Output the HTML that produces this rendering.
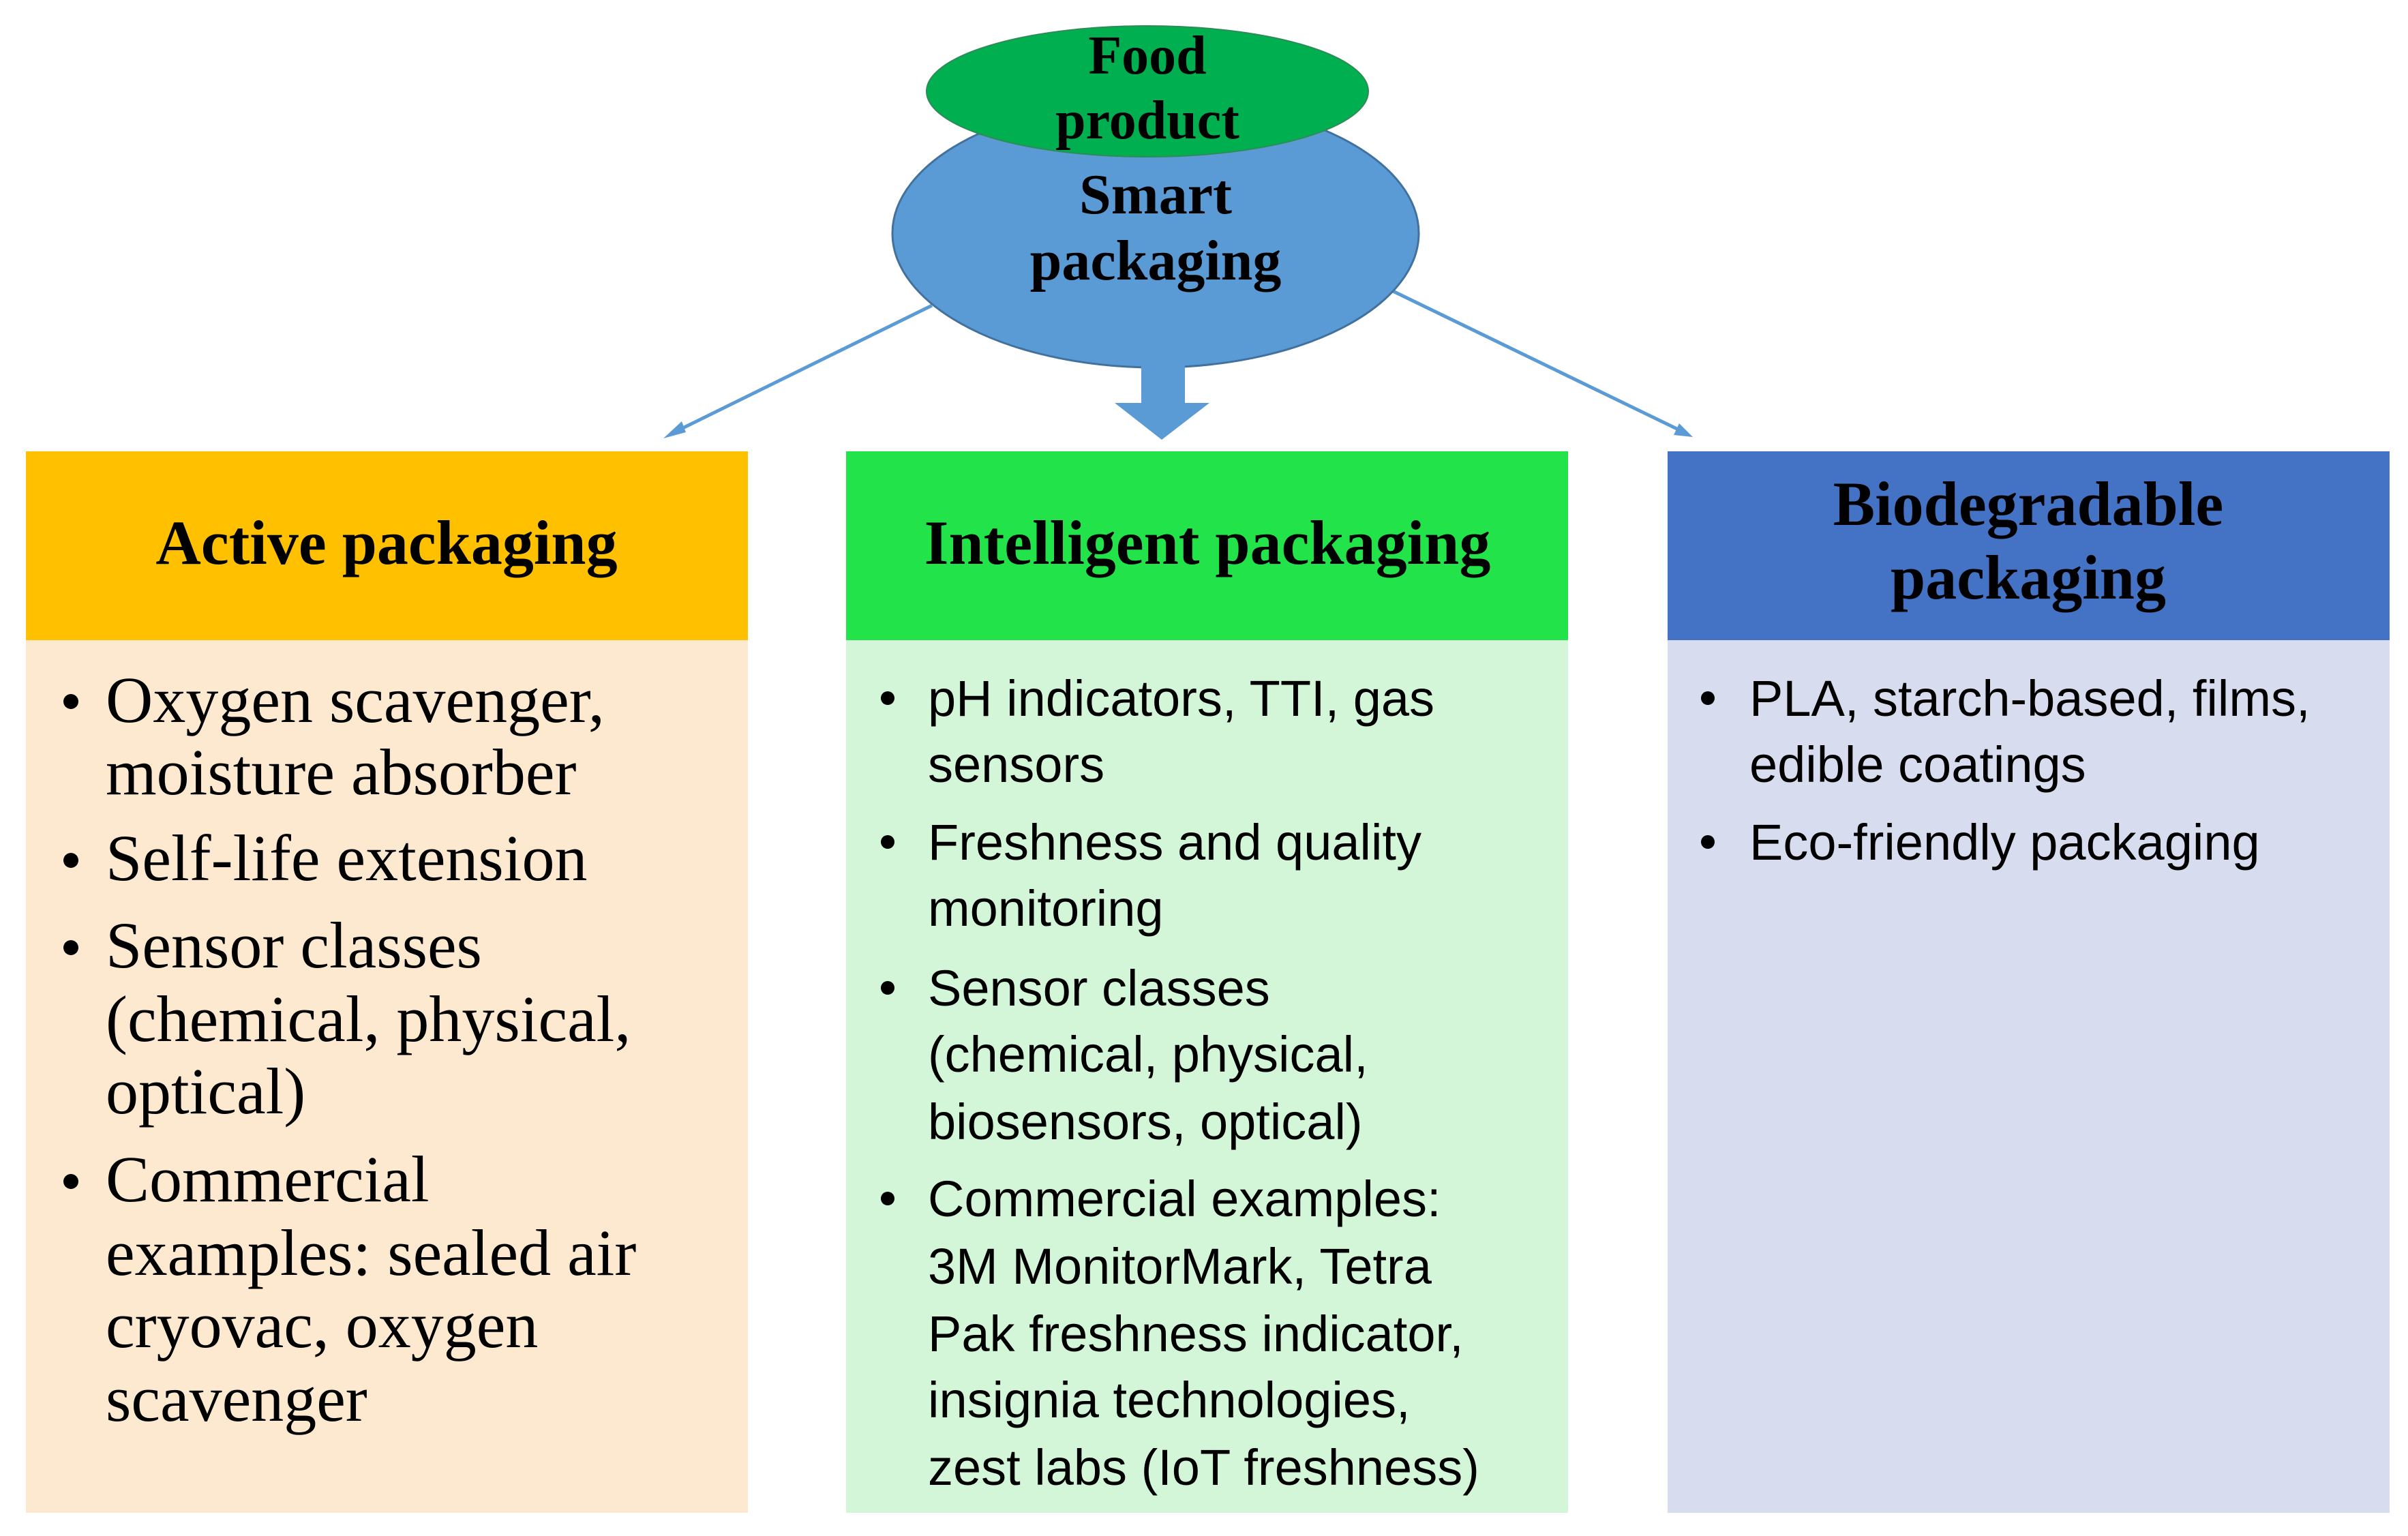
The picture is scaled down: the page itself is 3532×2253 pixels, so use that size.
<!DOCTYPE html>
<html><head><meta charset="utf-8"><style>html,body{margin:0;padding:0;background:#fff}svg{display:block}</style></head>
<body>
<svg width="3532" height="2253" viewBox="0 0 3532 2253" xmlns="http://www.w3.org/2000/svg">
<rect width="3532" height="2253" fill="#fff"/>
<!-- connectors -->
<line x1="1367" y1="448" x2="985" y2="636" stroke="#5b9bd5" stroke-width="5"/>
<polygon points="973,643 1000,618 1006,634" fill="#5b9bd5"/>
<line x1="2041" y1="426" x2="2470" y2="634" stroke="#5b9bd5" stroke-width="5"/>
<polygon points="2483,641 2455,638 2463,621" fill="#5b9bd5"/>
<!-- blue ellipse -->
<ellipse cx="1695" cy="342" rx="386" ry="197" fill="#5b9bd5" stroke="#41719c" stroke-width="3"/>
<!-- down arrow -->
<polygon points="1674,536 1738,536 1738,591 1774,591 1704,645 1635,591 1674,591" fill="#5b9bd5"/>
<!-- green ellipse -->
<ellipse cx="1683" cy="134" rx="324" ry="96" fill="#00b050" stroke="#2e8b57" stroke-width="2"/>
<g font-family="Liberation Serif, serif" font-weight="bold" fill="#000" text-anchor="middle">
<text x="1683" y="108" font-size="80">Food</text>
<text x="1683" y="203" font-size="80">product</text>
<text x="1695" y="313" font-size="84">Smart</text>
<text x="1695" y="410" font-size="84">packaging</text>
</g>
<!-- boxes -->
<rect x="38" y="662" width="1059" height="277" fill="#ffc000"/>
<rect x="38" y="939" width="1059" height="1280" fill="#fde9d0"/>
<rect x="1241" y="662" width="1059" height="277" fill="#23e34b"/>
<rect x="1241" y="939" width="1059" height="1280" fill="#d3f6d8"/>
<rect x="2446" y="662" width="1059" height="277" fill="#4472c4"/>
<rect x="2446" y="939" width="1059" height="1280" fill="#d7dcee"/>
<g font-family="Liberation Serif, serif" font-weight="bold" fill="#000" text-anchor="middle" font-size="92">
<text x="567" y="827">Active packaging</text>
<text x="1771" y="827">Intelligent packaging</text>
<text x="2975" y="770">Biodegradable</text>
<text x="2975" y="878">packaging</text>
</g>
<!-- active body -->
<g font-family="Liberation Serif, serif" fill="#000" font-size="96">
<circle cx="104" cy="1029" r="11"/>
<circle cx="104" cy="1262" r="11"/>
<circle cx="104" cy="1390" r="11"/>
<circle cx="104" cy="1733" r="11"/>
<text x="155" y="1059">Oxygen scavenger,</text>
<text x="155" y="1165">moisture absorber</text>
<text x="155" y="1291">Self-life extension</text>
<text x="155" y="1419">Sensor classes</text>
<text x="155" y="1527">(chemical, physical,</text>
<text x="155" y="1633">optical)</text>
<text x="155" y="1762">Commercial</text>
<text x="155" y="1870">examples: sealed air</text>
<text x="155" y="1976">cryovac, oxygen</text>
<text x="155" y="2084">scavenger</text>
</g>
<!-- intelligent body -->
<g font-family="Liberation Sans, sans-serif" fill="#000" font-size="74">
<circle cx="1302" cy="1024" r="10"/>
<circle cx="1302" cy="1235" r="10"/>
<circle cx="1302" cy="1449" r="10"/>
<circle cx="1302" cy="1758" r="10"/>
<text x="1361" y="1050">pH indicators, TTI, gas</text>
<text x="1361" y="1147">sensors</text>
<text x="1361" y="1261">Freshness and quality</text>
<text x="1361" y="1358">monitoring</text>
<text x="1361" y="1475">Sensor classes</text>
<text x="1361" y="1572">(chemical, physical,</text>
<text x="1361" y="1671">biosensors, optical)</text>
<text x="1361" y="1784">Commercial examples:</text>
<text x="1361" y="1883">3M MonitorMark, Tetra</text>
<text x="1361" y="1982">Pak freshness indicator,</text>
<text x="1361" y="2079">insignia technologies,</text>
<text x="1361" y="2178">zest labs (IoT freshness)</text>
</g>
<!-- bio body -->
<g font-family="Liberation Sans, sans-serif" fill="#000" font-size="74">
<circle cx="2505" cy="1024" r="10"/>
<circle cx="2505" cy="1235" r="10"/>
<text x="2566" y="1050">PLA, starch-based, films,</text>
<text x="2566" y="1147">edible coatings</text>
<text x="2566" y="1261">Eco-friendly packaging</text>
</g>
</svg>
</body></html>
